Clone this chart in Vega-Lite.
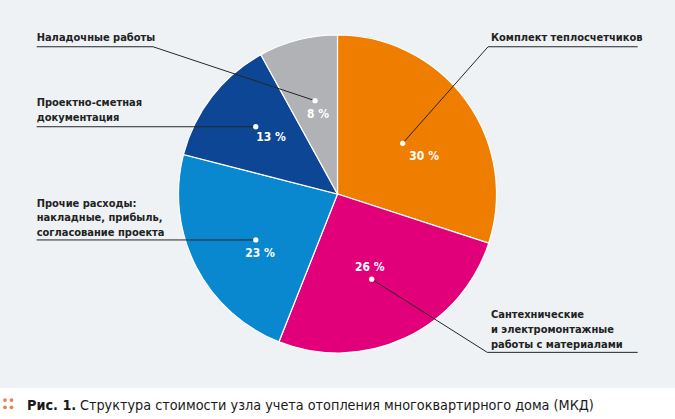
{
  "$schema": "https://vega.github.io/schema/vega-lite/v6.json",
  "width": 675,
  "height": 388,
  "padding": 0,
  "autosize": {"type": "pad"},
  "background": "#ffffff",
  "config": {"view": {"stroke": null, "fill": "#eef2f5"}},
  "datasets": {
    "slices": [
      {"k": "Комплект теплосчетчиков", "v": 30, "o": 1},
      {"k": "Сантехнические и электромонтажные работы с материалами", "v": 26, "o": 2},
      {"k": "Прочие расходы: накладные, прибыль, согласование проекта", "v": 23, "o": 3},
      {"k": "Проектно-сметная документация", "v": 13, "o": 4},
      {"k": "Наладочные работы", "v": 8, "o": 5}
    ],
    "leaders": [
      {"x": -1.892, "y": 0.926, "x2": -1.160, "y2": 0.926},
      {"x": -1.160, "y": 0.926, "x2": -0.1415, "y2": 0.587},
      {"x": -1.892, "y": 0.423, "x2": -0.514, "y2": 0.423},
      {"x": -1.892, "y": -0.289, "x2": -0.514, "y2": -0.289},
      {"x": 0.947, "y": 0.926, "x2": 1.888, "y2": 0.926},
      {"x": 0.947, "y": 0.926, "x2": 0.410, "y2": 0.319},
      {"x": 0.942, "y": -0.996, "x2": 1.888, "y2": -0.996},
      {"x": 0.942, "y": -0.996, "x2": 0.215, "y2": -0.536}
    ],
    "dots": [
      {"x": -0.1415, "y": 0.587},
      {"x": -0.514, "y": 0.423},
      {"x": -0.514, "y": -0.289},
      {"x": 0.410, "y": 0.319},
      {"x": 0.215, "y": -0.536}
    ],
    "pct": [
      {"t": "8 %", "x": -0.123, "y": 0.505},
      {"t": "13 %", "x": -0.418, "y": 0.360},
      {"t": "23 %", "x": -0.487, "y": -0.368},
      {"t": "30 %", "x": 0.545, "y": 0.238},
      {"t": "26 %", "x": 0.203, "y": -0.462}
    ],
    "labels": [
      {"t": "Наладочные работы", "x": -1.892, "y": 0.964},
      {"t": "Проектно-сметная\nдокументация", "x": -1.892, "y": 0.553},
      {"t": "Прочие расходы:\nнакладные, прибыль,\nсогласование проекта", "x": -1.892, "y": -0.080},
      {"t": "Комплект теплосчетчиков", "x": 0.965, "y": 0.964},
      {"t": "Сантехнические\nи электромонтажные\nработы с материалами", "x": 0.965, "y": -0.782}
    ],
    "captionBold": [
      {"t": "Рис. 1.", "x": -1.9528, "y": -1.3585}
    ],
    "caption": [
      {"t": "Структура стоимости узла учета отопления многоквартирного дома (МКД)", "x": -1.620, "y": -1.3585}
    ],
    "icon": [
      {"x": -2.0912, "y": -1.2956},
      {"x": -2.0503, "y": -1.2956},
      {"x": -2.0912, "y": -1.3415},
      {"x": -2.0503, "y": -1.3415}
    ]
  },
  "layer": [
    {
      "data": {"name": "slices"},
      "mark": {"type": "arc", "outerRadius": 159, "stroke": "#ffffff", "strokeWidth": 1.2},
      "encoding": {
        "theta": {"field": "v", "type": "quantitative", "stack": true},
        "order": {"field": "o", "type": "quantitative"},
        "color": {
          "field": "k",
          "type": "nominal",
          "legend": null,
          "scale": {
            "domain": [
              "Комплект теплосчетчиков",
              "Сантехнические и электромонтажные работы с материалами",
              "Прочие расходы: накладные, прибыль, согласование проекта",
              "Проектно-сметная документация",
              "Наладочные работы"
            ],
            "range": ["#ef7d00", "#e2007a", "#0a88cf", "#0d4694", "#b0b2b5"]
          }
        }
      }
    },
    {
      "data": {"name": "leaders"},
      "mark": {"type": "rule", "color": "#262626", "strokeWidth": 1},
      "encoding": {
        "x": {"field": "x", "type": "quantitative", "scale": {"domain": [-2.1226, 2.1226], "nice": false, "zero": false}, "axis": null},
        "y": {"field": "y", "type": "quantitative", "scale": {"domain": [-1.2201, 1.2201], "nice": false, "zero": false}, "axis": null},
        "x2": {"field": "x2"},
        "y2": {"field": "y2"}
      }
    },
    {
      "data": {"name": "dots"},
      "mark": {"type": "point", "filled": true, "color": "#ffffff", "size": 28, "opacity": 1},
      "encoding": {
        "x": {"field": "x", "type": "quantitative"},
        "y": {"field": "y", "type": "quantitative"}
      }
    },
    {
      "data": {"name": "pct"},
      "mark": {"type": "text", "color": "#ffffff", "font": "'DejaVu Sans Condensed', Roboto, sans-serif", "fontWeight": "bold", "fontSize": 12, "align": "center", "baseline": "middle"},
      "encoding": {
        "x": {"field": "x", "type": "quantitative"},
        "y": {"field": "y", "type": "quantitative"},
        "text": {"field": "t"}
      }
    },
    {
      "data": {"name": "labels"},
      "mark": {"type": "text", "color": "#222222", "font": "'DejaVu Sans Condensed', Roboto, sans-serif", "fontWeight": "bold", "fontSize": 11, "align": "left", "baseline": "alphabetic", "lineBreak": "\n", "lineHeight": 14.6},
      "encoding": {
        "x": {"field": "x", "type": "quantitative"},
        "y": {"field": "y", "type": "quantitative"},
        "text": {"field": "t"}
      }
    },
    {
      "data": {"name": "captionBold"},
      "mark": {"type": "text", "color": "#1a1a1a", "font": "'DejaVu Sans Condensed', Roboto, sans-serif", "fontWeight": "bold", "fontSize": 14.3, "align": "left", "baseline": "alphabetic"},
      "encoding": {
        "x": {"field": "x", "type": "quantitative"},
        "y": {"field": "y", "type": "quantitative"},
        "text": {"field": "t"}
      }
    },
    {
      "data": {"name": "caption"},
      "mark": {"type": "text", "color": "#1a1a1a", "font": "'DejaVu Sans Condensed', Roboto, sans-serif", "fontWeight": "normal", "fontSize": 14.3, "align": "left", "baseline": "alphabetic"},
      "encoding": {
        "x": {"field": "x", "type": "quantitative"},
        "y": {"field": "y", "type": "quantitative"},
        "text": {"field": "t"}
      }
    },
    {
      "data": {"name": "icon"},
      "mark": {"type": "point", "shape": "circle", "filled": true, "color": "#e8824a", "size": 14, "opacity": 1},
      "encoding": {
        "x": {"field": "x", "type": "quantitative"},
        "y": {"field": "y", "type": "quantitative"}
      }
    }
  ]
}
